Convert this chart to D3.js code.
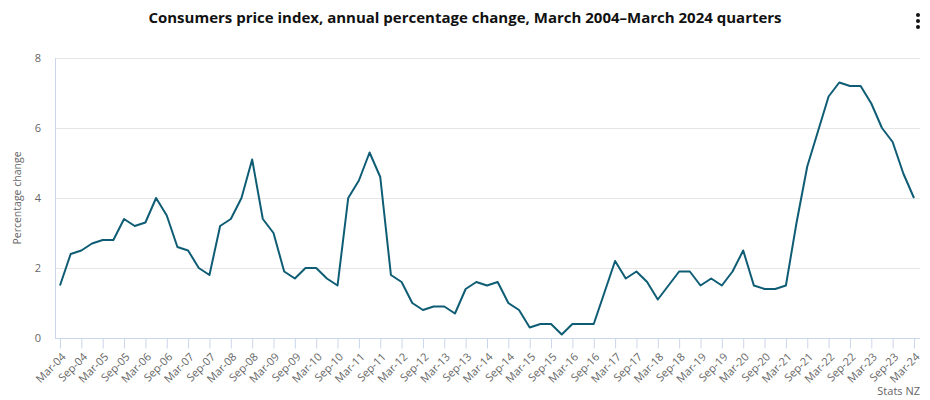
<!DOCTYPE html>
<html>
<head>
<meta charset="utf-8">
<script src="https://cdn.jsdelivr.net/npm/d3@7"></script>
<style>
  body { margin: 0; background: #fff; }
  svg { font-family: "Open Sans", Lato, sans-serif; }
</style>
</head>
<body>
<div id="chart"></div>
<script>
// quarters, March 2004 to March 2024
var quarters = [];
var years = d3.range(2004, 2025);
var months = ["Mar", "Jun", "Sep", "Dec"];
years.forEach(function(y) {
	months.forEach(function(m) {
		if (y === 2024 && m !== "Mar") return;
		quarters.push(m + "-" + String(y).slice(2));
	});
});

var cpiValues = [
	1.5, 2.4, 2.5, 2.7, 2.8, 2.8, 3.4, 3.2, 3.3, 4.0, 3.5, 2.6,
	2.5, 2.0, 1.8, 3.2, 3.4, 4.0, 5.1, 3.4, 3.0, 1.9, 1.7, 2.0,
	2.0, 1.7, 1.5, 4.0, 4.5, 5.3, 4.6, 1.8, 1.6, 1.0, 0.8, 0.9,
	0.9, 0.7, 1.4, 1.6, 1.5, 1.6, 1.0, 0.8, 0.3, 0.4, 0.4, 0.1,
	0.4, 0.4, 0.4, 1.3, 2.2, 1.7, 1.9, 1.6, 1.1, 1.5, 1.9, 1.9,
	1.5, 1.7, 1.5, 1.9, 2.5, 1.5, 1.4, 1.4, 1.5, 3.3, 4.9, 5.9,
	6.9, 7.3, 7.2, 7.2, 6.7, 6.0, 5.6, 4.7, 4.0
];

var yTicks = [0, 2, 4, 6, 8];
var xTickLabels = quarters.filter(function(q, i) { return i % 2 === 0; });

var width = 930, height = 400;
var margin = { top: 58, right: 10, bottom: 62, left: 55 };

var svg = d3.select("#chart").append("svg")
	.attr("width", width)
	.attr("height", height);

var x = d3.scalePoint()
	.domain(quarters)
	.range([margin.left + 5, width - 16]);

var y = d3.scaleLinear()
	.domain([0, 8])
	.range([height - margin.bottom, margin.top]);

// title
svg.append("text")
	.attr("x", 465)
	.attr("y", 23)
	.attr("text-anchor", "middle")
	.attr("font-size", 15)
	.attr("font-weight", "bold")
	.attr("fill", "#111")
	.text("Consumers price index, annual percentage change, March 2004\u2013March 2024 quarters");

// menu dots
svg.selectAll(".menu-dot").data([0, 1, 2]).enter().append("circle")
	.attr("class", "menu-dot")
	.attr("cx", 918)
	.attr("cy", function(d) { return 15 + d * 6; })
	.attr("r", 2)
	.attr("fill", "#111");

// grid lines
svg.append("g").selectAll("line").data(yTicks.filter(function(d) { return d > 0; })).enter().append("line")
	.attr("x1", margin.left)
	.attr("x2", width - margin.right)
	.attr("y1", function(d) { return y(d) + 0.5; })
	.attr("y2", function(d) { return y(d) + 0.5; })
	.attr("stroke", "#e6e6e6");

// y axis line
svg.append("line")
	.attr("x1", margin.left + 0.5)
	.attr("x2", margin.left + 0.5)
	.attr("y1", margin.top)
	.attr("y2", y(0))
	.attr("stroke", "#ccd6eb");

// y tick labels
svg.append("g").selectAll("text").data(yTicks).enter().append("text")
	.attr("x", 41)
	.attr("y", function(d) { return y(d) + 4; })
	.attr("text-anchor", "end")
	.attr("font-size", 11)
	.attr("fill", "#666")
	.text(function(d) { return d; });

// y axis title
svg.append("text")
	.attr("transform", "translate(21," + ((y(0) + y(8)) / 2) + ") rotate(-90)")
	.attr("text-anchor", "middle")
	.attr("font-size", 10.5)
	.attr("fill", "#666")
	.text("Percentage change");

// x axis
var xAxis = d3.axisBottom(x)
	.tickValues(xTickLabels)
	.tickSize(10)
	.tickSizeOuter(0);

var gx = svg.append("g")
	.attr("transform", "translate(0," + (y(0) + 0.5) + ")")
	.call(xAxis);

gx.select(".domain")
	.attr("stroke", "#ccd6eb")
	.attr("d", "M" + margin.left + ",0H" + (width - margin.right));
gx.selectAll(".tick line").attr("stroke", "#ccd6eb");
gx.selectAll(".tick text")
	.attr("font-family", "'Open Sans', Lato, sans-serif")
	.attr("font-size", 11)
	.attr("fill", "#666")
	.attr("text-anchor", "end")
	.attr("dy", null)
	.attr("y", null)
	.attr("transform", "translate(6,19) rotate(-45)");

// series line
var line = d3.line()
	.x(function(d, i) { return x(quarters[i]); })
	.y(function(d) { return y(d); });

svg.append("path")
	.datum(cpiValues)
	.attr("fill", "none")
	.attr("stroke", "#0f5d75")
	.attr("stroke-width", 2)
	.attr("stroke-linejoin", "round")
	.attr("d", line);

// credit
svg.append("text")
	.attr("x", width - 10)
	.attr("y", height - 5)
	.attr("text-anchor", "end")
	.attr("font-size", 11)
	.attr("fill", "#666")
	.text("Stats NZ");
</script>
</body>
</html>
